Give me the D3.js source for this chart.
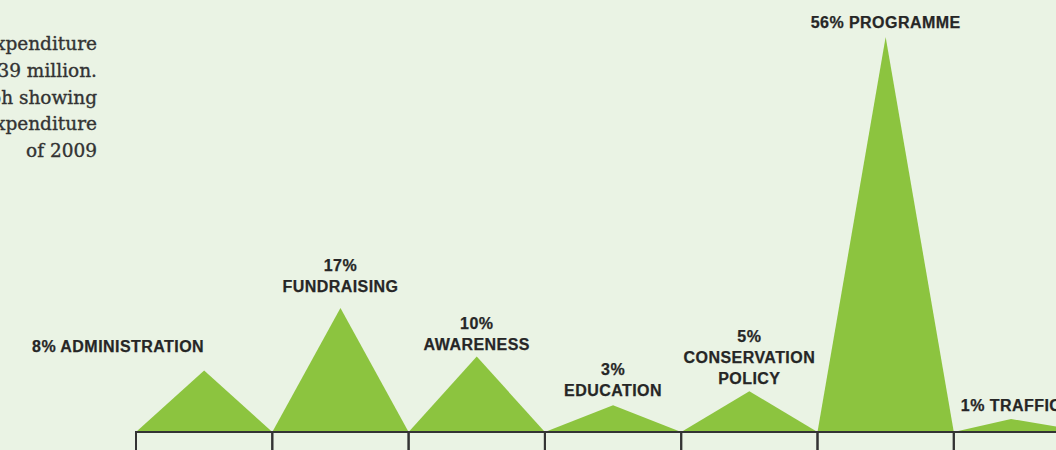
<!DOCTYPE html>
<html>
<head>
<meta charset="utf-8">
<script src="https://cdn.jsdelivr.net/npm/d3@7"></script>
<style>
  html, body { margin: 0; padding: 0; background: #EAF3E4; overflow: hidden; }
  svg { display: block; }
</style>
</head>
<body>
<svg id="chart" width="1056" height="450"></svg>
<script>
// ---- data ----
const categories = ["ADMINISTRATION", "FUNDRAISING", "AWARENESS", "EDUCATION", "CONSERVATION POLICY", "PROGRAMME", "TRAFFIC"];
const percentages = [8, 17, 10, 3, 5, 56, 1];
const labelLines = [
  ["8% ADMINISTRATION"],
  ["17%", "FUNDRAISING"],
  ["10%", "AWARENESS"],
  ["3%", "EDUCATION"],
  ["5%", "CONSERVATION", "POLICY"],
  ["56% PROGRAMME"],
  ["1% TRAFFIC"]
];
const introLines = [
  "Total expenditure",
  "in 2009 was £1.39 million.",
  "Below is a graph showing",
  "the breakdown of expenditure",
  "of 2009"
];

// ---- layout ----
const W = 1056, H = 450;
const baseY = 432;
const green = "#8CC43F";
const ink = "#262626";
const labelGap = [18, 16, 7, 9, 7, 9, 8];   // gap from peak to last label baseline
const labelAnchor = ["end", "middle", "middle", "middle", "middle", "middle", "middle"];
const peakFrac = [0.5, 0.5, 0.5, 0.5, 0.5, 0.5, 0.42];

const svg = d3.select("#chart");

const x = d3.scaleBand().domain(categories).range([136, 136 + 7 * 136.3]).padding(0);
const y = d3.scaleLinear().domain([0, 56]).range([baseY - 6, 37]);

const data = categories.map((c, i) => ({ c, v: percentages[i], lines: labelLines[i], i }));
const peakX = d => x(d.c) + x.bandwidth() * peakFrac[d.i];

// triangles
svg.append("g").selectAll("path").data(data).join("path")
  .attr("d", d => {
    const x0 = x(d.c), x1 = x0 + x.bandwidth(), xm = peakX(d);
    return `M${x0},${baseY}L${xm},${y(d.v)}L${x1},${baseY}Z`;
  })
  .attr("fill", green);

// boxes below baseline
svg.append("g").selectAll("rect").data(data).join("rect")
  .attr("x", d => x(d.c))
  .attr("y", baseY)
  .attr("width", x.bandwidth())
  .attr("height", 60)
  .attr("fill", "none")
  .attr("stroke", "#333")
  .attr("stroke-width", 2);

// labels
const lineH = 21;
const lg = svg.append("g")
  .attr("font-family", "'Liberation Sans', Arial, Helvetica, sans-serif")
  .attr("font-weight", "bold")
  .attr("font-size", 16)
  .attr("letter-spacing", 0.45)
  .attr("fill", ink)
  .attr("stroke", ink)
  .attr("stroke-width", 0.25);

data.forEach(d => {
  const xm = peakX(d);
  const lastBase = y(d.v) - labelGap[d.i];
  const n = d.lines.length;
  const t = lg.append("text")
    .attr("text-anchor", labelAnchor[d.i])
    .attr("x", xm);
  d.lines.forEach((ln, k) => {
    t.append("tspan")
      .attr("x", xm)
      .attr("y", lastBase - (n - 1 - k) * lineH)
      .text(ln);
  });
});

// intro text (right-aligned, partly off the left edge)
const it = svg.append("text")
  .attr("font-family", "'DejaVu Serif', Georgia, serif")
  .attr("font-size", 18.5)
  .attr("fill", "#333")
  .attr("stroke", "#333")
  .attr("stroke-width", 0.35)
  .attr("text-anchor", "end");
introLines.forEach((ln, k) => {
  it.append("tspan").attr("x", 97).attr("y", 50 + k * 26.8).text(ln);
});
</script>
</body>
</html>
